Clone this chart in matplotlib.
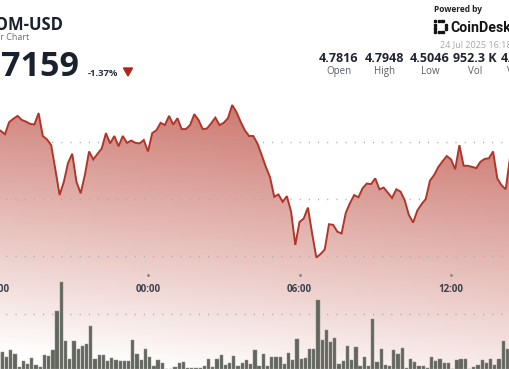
import numpy as np
import pandas as pd
import matplotlib
matplotlib.use('Agg')
import matplotlib.pyplot as plt
import matplotlib.dates as mdates
import matplotlib.transforms as mtransforms
from matplotlib.patches import Polygon, Rectangle

plt.rcParams['font.family'] = ['Open Sans', 'DejaVu Sans']

# ─────────────────────────────────────────────
# data (10-minute steps, first point 18:00 on 23 Jul)
# ─────────────────────────────────────────────
start = '2025-07-23 18:00'
price = [
    4.722, 4.719, 4.713, 4.734, 4.740, 4.745, 4.738, 4.735, 4.731, 4.730,
    4.750, 4.710, 4.704, 4.694, 4.651, 4.607, 4.630, 4.663, 4.679, 4.630,
    4.610, 4.642, 4.683, 4.669, 4.679, 4.688, 4.715, 4.697, 4.710, 4.692,
    4.710, 4.698, 4.702, 4.698, 4.697, 4.703, 4.683, 4.715, 4.720, 4.733,
    4.729, 4.745, 4.730, 4.741, 4.722, 4.722, 4.729, 4.748, 4.738, 4.722,
    4.723, 4.732, 4.742, 4.729, 4.733, 4.741, 4.764, 4.752, 4.735, 4.720,
    4.710, 4.710, 4.697, 4.677, 4.656, 4.638, 4.604, 4.608, 4.595, 4.605,
    4.578, 4.520, 4.560, 4.566, 4.585, 4.540, 4.498, 4.504, 4.512, 4.556,
    4.555, 4.543, 4.540, 4.576, 4.593, 4.607, 4.603, 4.619, 4.627, 4.626,
    4.636, 4.617, 4.620, 4.611, 4.602, 4.617, 4.613, 4.598, 4.572, 4.559,
    4.580, 4.591, 4.600, 4.632, 4.642, 4.656, 4.666, 4.675, 4.669, 4.652,
    4.694, 4.658, 4.658, 4.656, 4.654, 4.665, 4.670, 4.671, 4.683, 4.636,
    4.624, 4.617, 4.671, 4.700,
]
volume = [
    17, 17, 12, 19.5, 15.5, 2, 8, 5.5, 11, 4.5,
    2, 14, 13, 19, 58, 87, 28, 10, 28, 20.5,
    23, 25, 43.5, 10, 14, 14.5, 8.5, 11, 9, 8.5,
    8.5, 8.5, 29.5, 15.5, 9.5, 20.5, 12.5, 3.5, 9, 6,
    0.5, 0.5, 2, 6.5, 7, 1.5, 1.5, 1.5, 1.5, 3,
    10, 2, 10.5, 14, 4, 6, 13, 3, 6, 9.5,
    5, 19.5, 3.5, 15, 3, 12, 12, 12.5, 5.5, 16,
    9, 30, 10, 11, 20, 20, 69.5, 29.5, 39, 27,
    31, 5, 8, 23, 9.5, 22.5, 3, 12, 3, 50,
    7, 20.5, 4.5, 3, 19, 15, 21, 1.5, 10, 7,
    3, 3.5, 1.5, 12, 8, 10.5, 6, 6, 0.5, 9,
    10.5, 10, 0.5, 2, 4.5, 9, 6, 10.5, 4, 10,
    28, 20.5, 11, 47,
]
tick_times = ['2025-07-23 18:00', '2025-07-24 00:00', '2025-07-24 06:00', '2025-07-24 12:00']
tick_labels = ['18:00', '00:00', '06:00', '12:00']
grid_levels = [4.7, 4.6, 4.5, 4.4]

pair = 'ATOM-USD'
chart_kind = 'Hour Bar Chart'
last_price = '4.7159'
change = '-1.37%'
stamp = '24 Jul 2025 16:18'
stat_values = ['4.7816', '4.7948', '4.5046', '952.3 K', '4.6512']
stat_names = ['Open', 'High', 'Low', 'Vol', 'VWAP']

# ─────────────────────────────────────────────
# layout (pixels)
# ─────────────────────────────────────────────
W, H, DPI = 510, 369, 100
ZERO_PX, PX_PER_H = 148.0, 25.25          # x of 00:00, pixels per hour
Y_TOP, Y_BOT = 4.94716, 4.30352            # price at top / bottom edge

LINE_C = '#b0362a'
BAR_C, BAR_EC = '#62665f', '#8e918b'
NAVY = '#19202e'

times = pd.date_range(start, periods=len(price), freq='10min')
xn = mdates.date2num(times.to_pydatetime())
zero = mdates.date2num(pd.Timestamp('2025-07-24 00:00').to_pydatetime())
x_left = zero - ZERO_PX / PX_PER_H / 24
x_right = zero + (W - ZERO_PX) / PX_PER_H / 24

fig = plt.figure(figsize=(W / DPI, H / DPI), dpi=DPI)
fig.patch.set_facecolor('white')
ax = fig.add_axes([0, 0, 1, 1])
ax.set_xlim(x_left, x_right)
ax.set_ylim(Y_BOT, Y_TOP)
ax.axis('off')

# gradient fill under the price line
yy, xx = np.mgrid[0:H, 0:W]
alpha = 0.70 - 0.0026 * (yy - 110) + 0.00028 * (xx - 255)
alpha = np.clip(alpha, 0, 0.75)
rgba = np.zeros((H, W, 4))
rgba[..., 0] = 0xb8 / 255
rgba[..., 1] = 0x42 / 255
rgba[..., 2] = 0x36 / 255
rgba[..., 3] = alpha
im = ax.imshow(rgba, extent=(x_left, x_right, Y_BOT, Y_TOP), origin='upper',
               aspect='auto', interpolation='bilinear', zorder=0)
verts = [(xn[0], Y_BOT - 1)] + list(zip(xn, price)) + [(xn[-1], Y_BOT - 1)]
poly = Polygon(verts, closed=True, facecolor='none', edgecolor='none')
ax.add_patch(poly)
im.set_clip_path(poly)

for lv in grid_levels:
    ax.axhline(lv, color='#a9a9a9', lw=1.0, ls=(2.4, (0.8, 5.8)), zorder=1)

ax.plot(xn, price, color=LINE_C, lw=1.4, solid_joinstyle='miter', zorder=3)

# volume bars
ax2 = ax.twinx()
ax2.set_ylim(0, H)
ax2.axis('off')
ax2.bar(xn + 4 / 1440, volume, width=7.8 / 1440, color=BAR_C,
        edgecolor=BAR_EC, linewidth=0.35, zorder=2)

# time labels
tr = mtransforms.blended_transform_factory(ax.transData, ax.transAxes)
for t, lab in zip(tick_times, tick_labels):
    tx = mdates.date2num(pd.Timestamp(t).to_pydatetime())
    ax.plot([tx], [1 - 275 / H], marker='o', ms=1.1, color='#8a8a8a',
            transform=tr, zorder=4, clip_on=False)
    ax.text(tx, 1 - 289 / H, lab, transform=tr, ha='center', va='center',
            fontsize=7, fontweight='bold', color='#3b414d', zorder=5)


# ─────────────────────────────────────────────
# header
# ─────────────────────────────────────────────
def fx(x):
    return x / W


def fy(y):
    return 1 - y / H


fig.text(fx(63), fy(30), pair, ha='right', va='baseline', fontsize=12,
         fontweight='bold', color=NAVY)
fig.text(fx(29), fy(40), chart_kind, ha='right', va='baseline', fontsize=6.5,
         color='#6a6e75')
fig.text(fx(79.5), fy(76), last_price, ha='right', va='baseline', fontsize=24.5,
         fontweight='bold', color=NAVY)
fig.text(fx(88), fy(76), change, ha='left', va='baseline', fontsize=6.8,
         fontweight='bold', color='#2c313b')
tri = Polygon([(fx(123.5), fy(68)), (fx(132.5), fy(68)), (fx(128), fy(76))],
              closed=True, transform=fig.transFigure, color='#b3241a')
fig.add_artist(tri)

fig.text(fx(434), fy(12.5), 'Powered by', ha='left', va='baseline', fontsize=6,
         fontweight='bold', color='#222')
# CoinDesk mark
for (bx, by) in [(434, 20), (434, 23.6), (434, 27.2), (434, 30.8),
                 (437.6, 20), (441.2, 20), (437.6, 30.8), (441.2, 30.8),
                 (444.8, 23.6), (444.8, 27.2)]:
    fig.add_artist(Rectangle((fx(bx), fy(by + 2.4)), 2.4 / W, 2.4 / H,
                             transform=fig.transFigure, color='#141414'))
fig.text(fx(450), fy(32), 'CoinDesk', ha='left', va='baseline', fontsize=10.2,
         fontweight='bold', color='#141414', family=['Roboto', 'DejaVu Sans'])
fig.text(fx(440), fy(47), stamp, ha='left', va='baseline', fontsize=6.5,
         color='#a8a8a8')

stat_x = [339, 384.5, 430, 475, 520.5]
for sx, v, n in zip(stat_x, stat_values, stat_names):
    fig.text(fx(sx), fy(62.5), v, ha='center', va='baseline', fontsize=9,
             fontweight='bold', color='#1f2430')
    fig.text(fx(sx), fy(74), n, ha='center', va='baseline', fontsize=7,
             color='#5a5e66')

fig.savefig('out.png', dpi=DPI, facecolor='white')
